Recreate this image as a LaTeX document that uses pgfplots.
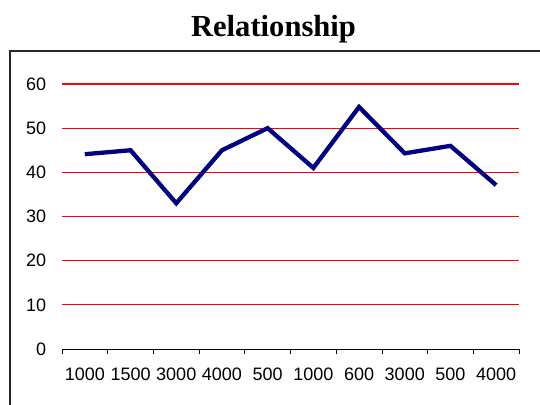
\documentclass[border=0pt]{standalone}
\usepackage{pgfplots}
\pgfplotsset{compat=1.18}
\usepackage{fontspec}
\setmainfont{Liberation Sans}
\newfontfamily\titlefont{Liberation Serif}
\definecolor{linenavy}{RGB}{0,0,128}

\begin{document}
\begin{tikzpicture}[x=1pt,y=1pt]
  \useasboundingbox (0,0) rectangle (540,404);
  \clip (0,0) rectangle (540,404);
  % outer chart frame (runs off the right and bottom edges)
  \draw[line width=1.2pt, black!85] (10,353) rectangle (560,-20);
  % title
  \node[anchor=base, inner sep=0pt] at (273.5,367)
    {\titlefont\bfseries\fontsize{30.6}{36}\selectfont Relationship};
  \begin{axis}[
    at={(62pt,55pt)}, anchor=south west,
    scale only axis, width=457pt, height=265pt,
    xmin=-0.5, xmax=9.5, ymin=0, ymax=60,
    axis x line*=bottom, axis y line*=left,
    x axis line style={black, line width=0.8pt, -},
    y axis line style={draw=none},
    xtick={0,...,9},
    xticklabels={1000,1500,3000,4000,500,1000,600,3000,500,4000},
    major x tick style={draw=none},
    minor xtick={-0.5,0.5,...,9.5},
    minor x tick style={black, line width=0.8pt},
    minor tick length=5pt,
    tick align=outside,
    ytick={10,20,...,60},
    extra y ticks={0},
    extra y tick style={grid=none},
    major y tick style={draw=none},
    ymajorgrids,
    major grid style={red, line width=1.3pt},
    tick label style={font=\fontsize{18}{21}\selectfont},
    xticklabel style={yshift=-11pt},
    yticklabel style={xshift=-8pt},
    /pgf/number format/assume math mode=true,
    clip=false,
  ]
    \addplot[linenavy, line width=4.3pt, line join=miter] coordinates {
      (0,44.1) (1,45.0) (2,33.0) (3,45.0) (4,50.0)
      (5,41.0) (6,54.8) (7,44.3) (8,46.0) (9,37.1)
    };
  \end{axis}
\end{tikzpicture}
\end{document}
